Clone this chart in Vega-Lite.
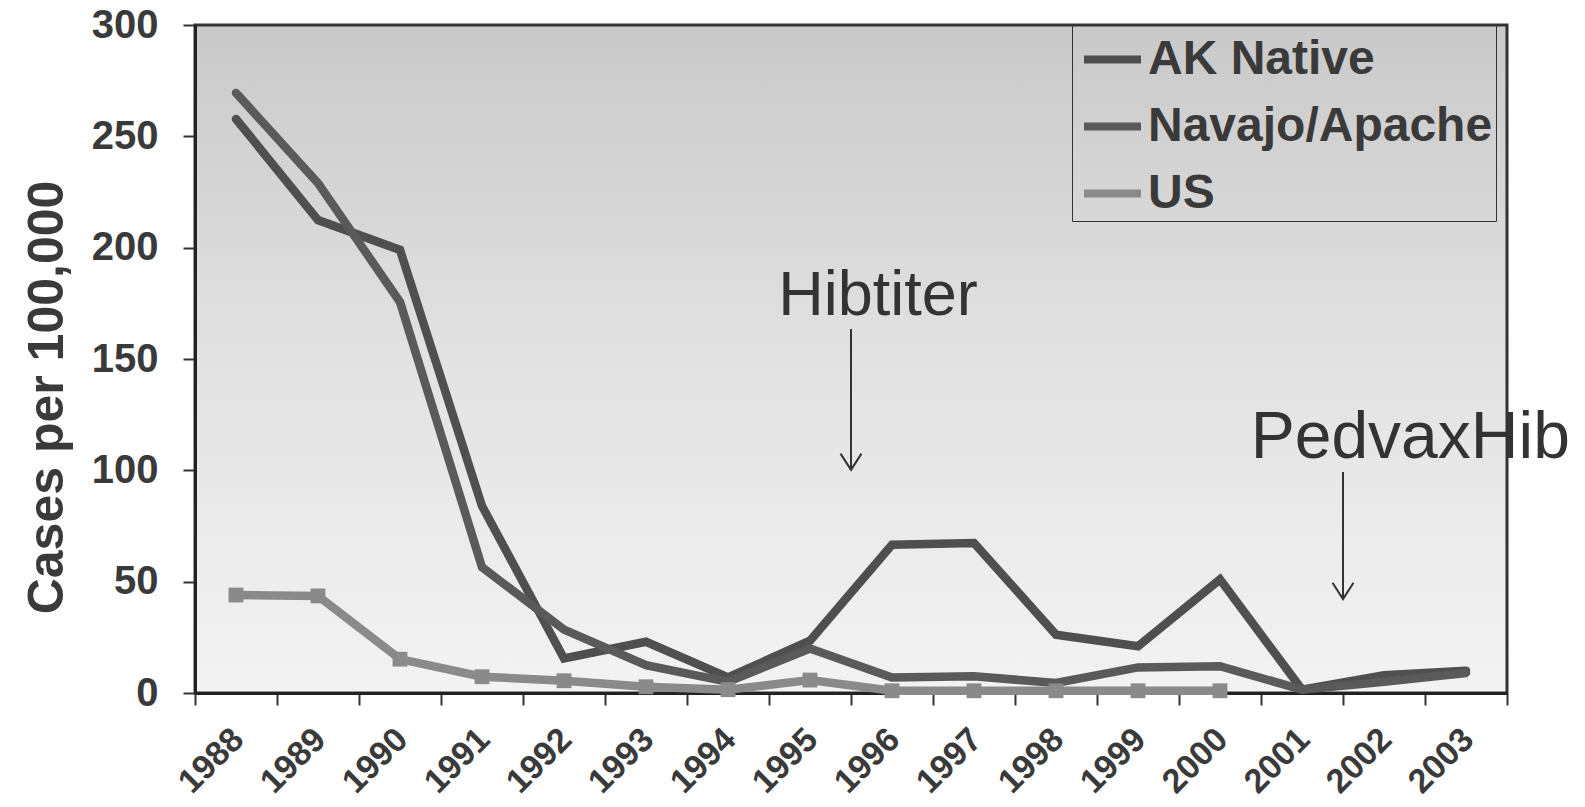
{
  "$schema": "https://vega.github.io/schema/vega-lite/v6.json",
  "width": 1312,
  "height": 668,
  "autosize": {"type": "none"},
  "padding": {"left": 195, "top": 25, "right": 78, "bottom": 114},
  "background": "white",
  "config": {
    "font": "Liberation Sans",
    "view": {
      "fill": {"gradient": "linear", "x1": 0, "y1": 0, "x2": 0, "y2": 1, "stops": [{"offset": 0, "color": "#c9c9c9"}, {"offset": 0.5, "color": "#e2e2e2"}, {"offset": 1, "color": "#f3f3f3"}]},
      "stroke": "#333333",
      "strokeWidth": 3
    }
  },
  "datasets": {
    "series": [
      {"year": "1988", "group": "AK Native", "rate": 257.8},
      {"year": "1989", "group": "AK Native", "rate": 212.4},
      {"year": "1990", "group": "AK Native", "rate": 199},
      {"year": "1991", "group": "AK Native", "rate": 84},
      {"year": "1992", "group": "AK Native", "rate": 15.5},
      {"year": "1993", "group": "AK Native", "rate": 23},
      {"year": "1994", "group": "AK Native", "rate": 7},
      {"year": "1995", "group": "AK Native", "rate": 23.5},
      {"year": "1996", "group": "AK Native", "rate": 66.6},
      {"year": "1997", "group": "AK Native", "rate": 67.4},
      {"year": "1998", "group": "AK Native", "rate": 26.2},
      {"year": "1999", "group": "AK Native", "rate": 21},
      {"year": "2000", "group": "AK Native", "rate": 51},
      {"year": "2001", "group": "AK Native", "rate": 1.5},
      {"year": "2002", "group": "AK Native", "rate": 8},
      {"year": "2003", "group": "AK Native", "rate": 10},
      {"year": "1988", "group": "Navajo/Apache", "rate": 269.5},
      {"year": "1989", "group": "Navajo/Apache", "rate": 229},
      {"year": "1990", "group": "Navajo/Apache", "rate": 175.6},
      {"year": "1991", "group": "Navajo/Apache", "rate": 56.5},
      {"year": "1992", "group": "Navajo/Apache", "rate": 28.5},
      {"year": "1993", "group": "Navajo/Apache", "rate": 12.5},
      {"year": "1994", "group": "Navajo/Apache", "rate": 5},
      {"year": "1995", "group": "Navajo/Apache", "rate": 20},
      {"year": "1996", "group": "Navajo/Apache", "rate": 7},
      {"year": "1997", "group": "Navajo/Apache", "rate": 7.5},
      {"year": "1998", "group": "Navajo/Apache", "rate": 4.5},
      {"year": "1999", "group": "Navajo/Apache", "rate": 11.5},
      {"year": "2000", "group": "Navajo/Apache", "rate": 12},
      {"year": "2001", "group": "Navajo/Apache", "rate": 1.5},
      {"year": "2002", "group": "Navajo/Apache", "rate": 5},
      {"year": "2003", "group": "Navajo/Apache", "rate": 9},
      {"year": "1988", "group": "US", "rate": 44},
      {"year": "1989", "group": "US", "rate": 43.6},
      {"year": "1990", "group": "US", "rate": 15.2},
      {"year": "1991", "group": "US", "rate": 7.3},
      {"year": "1992", "group": "US", "rate": 5.5},
      {"year": "1993", "group": "US", "rate": 2.8},
      {"year": "1994", "group": "US", "rate": 1.5},
      {"year": "1995", "group": "US", "rate": 5.8},
      {"year": "1996", "group": "US", "rate": 1},
      {"year": "1997", "group": "US", "rate": 1},
      {"year": "1998", "group": "US", "rate": 1},
      {"year": "1999", "group": "US", "rate": 1},
      {"year": "2000", "group": "US", "rate": 1}
    ],
    "notes": [
      {"label": "Hibtiter", "year": "1996", "top": 163.5, "bottom": 100.2, "texty": 169.8},
      {"label": "PedvaxHib", "year": "2002", "top": 99.3, "bottom": 42.2, "texty": 105.5}
    ]
  },
  "layer": [
    {
      "data": {"name": "series"},
      "mark": {"type": "line", "strokeWidth": 8.5, "strokeCap": "round"},
      "encoding": {
        "x": {
          "field": "year", "type": "ordinal", "bandPosition": 0.5,
          "scale": {"type": "band", "paddingInner": 0, "paddingOuter": 0, "domain": ["1988","1989","1990","1991","1992","1993","1994","1995","1996","1997","1998","1999","2000","2001","2002","2003"]},
          "axis": {
            "title": null, "tickBand": "extent", "labelAngle": -45, "labelAlign": "right", "labelBaseline": "top",
            "labelFontSize": 34, "labelFontWeight": "bold", "labelColor": "#3a3a3a", "labelPadding": 17, "labelOffset": -10,
            "tickSize": 12, "tickWidth": 2, "tickColor": "#333333", "domainColor": "#222222", "domainWidth": 3, "grid": false
          }
        },
        "y": {
          "field": "rate", "type": "quantitative",
          "scale": {"domain": [0, 300], "nice": false, "zero": true},
          "axis": {
            "title": "Cases per 100,000", "values": [0, 50, 100, 150, 200, 250, 300],
            "titleFontSize": 50, "titleFontWeight": "bold", "titleColor": "#3a3a3a", "titleAngle": -90,
            "titleX": -133, "titleY": 372, "titleAlign": "center", "titleBaseline": "alphabetic",
            "labelFontSize": 40, "labelFontWeight": "bold", "labelColor": "#3a3a3a", "labelPadding": 25,
            "tickSize": 12, "tickWidth": 2, "tickColor": "#333333", "domainColor": "#222222", "domainWidth": 3, "grid": false
          }
        },
        "color": {
          "field": "group", "type": "nominal",
          "scale": {"domain": ["AK Native", "Navajo/Apache", "US"], "range": ["#4f4f4f", "#5a5a5a", "#8a8a8a"]},
          "legend": {
            "title": null, "orient": "none", "legendX": 877, "legendY": -1,
            "symbolType": "stroke", "symbolSize": 3249, "symbolStrokeWidth": 8, "symbolOffset": 5,
            "labelFontSize": 48, "labelFontWeight": "bold", "labelColor": "#3a3a3a", "labelOffset": 3, "labelLimit": 0,
            "rowPadding": 10, "padding": 3, "strokeColor": "#333333"
          }
        }
      }
    },
    {
      "data": {"name": "series"},
      "transform": [{"filter": "datum.group === 'US'"}],
      "mark": {"type": "point", "shape": "square", "filled": true, "size": 220, "opacity": 1},
      "encoding": {
        "x": {"field": "year", "type": "ordinal", "bandPosition": 0.5},
        "y": {"field": "rate", "type": "quantitative"},
        "color": {"value": "#8a8a8a"}
      }
    },
    {
      "data": {"name": "notes"},
      "mark": {"type": "rule", "color": "#333333", "strokeWidth": 2},
      "encoding": {
        "x": {"field": "year", "type": "ordinal", "bandPosition": 0},
        "y": {"field": "top", "type": "quantitative"},
        "y2": {"field": "bottom"}
      }
    },
    {
      "data": {"name": "notes"},
      "mark": {"type": "point", "shape": "M-1,-1.55L0,0L1,-1.55", "filled": false, "size": 440, "stroke": "#333333", "strokeWidth": 2, "opacity": 1},
      "encoding": {
        "x": {"field": "year", "type": "ordinal", "bandPosition": 0},
        "y": {"field": "bottom", "type": "quantitative"}
      }
    },
    {
      "data": {"name": "notes"},
      "transform": [{"filter": "datum.label === 'Hibtiter'"}],
      "mark": {"type": "text", "fontSize": 63, "color": "#333333", "align": "center", "baseline": "alphabetic"},
      "encoding": {
        "x": {"field": "year", "type": "ordinal", "bandPosition": 0.33},
        "y": {"field": "texty", "type": "quantitative"},
        "text": {"field": "label"}
      }
    },
    {
      "data": {"name": "notes"},
      "transform": [{"filter": "datum.label === 'PedvaxHib'"}],
      "mark": {"type": "text", "fontSize": 66, "color": "#333333", "align": "center", "baseline": "alphabetic"},
      "encoding": {
        "x": {"field": "year", "type": "ordinal", "bandPosition": 0.82},
        "y": {"field": "texty", "type": "quantitative"},
        "text": {"field": "label"}
      }
    }
  ]
}
